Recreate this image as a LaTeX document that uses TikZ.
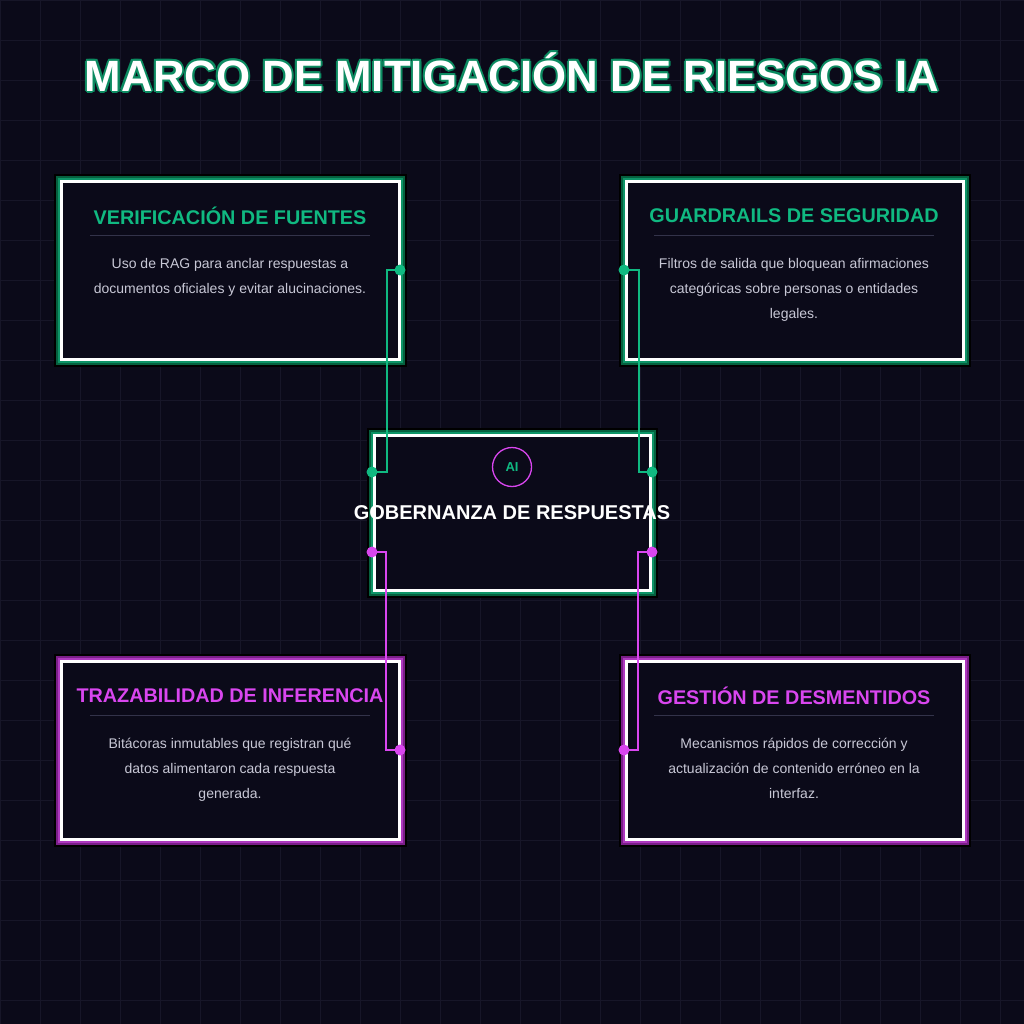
\documentclass[tikz,border=0pt]{standalone}
\usepackage{fontspec}
\setmainfont{Liberation Sans}
\usetikzlibrary{positioning}
\definecolor{bgdark}{HTML}{0B0A19}
\definecolor{gridc}{HTML}{171628}
\definecolor{emer}{HTML}{10B981}
\definecolor{emerdk}{HTML}{06603F}
\definecolor{pinkc}{HTML}{D946EF}
\definecolor{pinkdk}{HTML}{7A1F88}
\definecolor{bodyc}{HTML}{C8C8D6}
\definecolor{sepc}{HTML}{33334A}
\tikzset{
  head/.style={font=\bfseries\fontsize{19.8}{24}\selectfont},
  body/.style={text=bodyc, align=center, font=\fontsize{14}{25}\selectfont},
  dot/.style={circle, inner sep=0pt, minimum size=11pt},
  wire/.style={line width=1.5pt}
}
% card: x0, y0, x1, y1 (outer box), accent colour, dark colour
\newcommand{\card}[6]{%
  \fill[black] (#1,#2) rectangle (#3,#4);
  \fill[#6] (#1+2,#2+2) rectangle (#3-2,#4-2);
  \fill[#5!80!black] (#1+4,#2+4) rectangle (#3-4,#4-4);
  \fill[bgdark] (#1+6,#2+6) rectangle (#3-6,#4-6);
  \draw[white, line width=3pt] (#1+7.5,#2+7.5) rectangle (#3-7.5,#4-7.5);
}
\begin{document}
\begin{tikzpicture}[x=1pt, y=-1pt]
  \fill[bgdark] (0,0) rectangle (1024,1024);
  \useasboundingbox (0,0) rectangle (1024,1024);
  \foreach \k in {0,40,...,1000} {
    \draw[gridc] (\k,0) -- (\k,1024);
    \draw[gridc] (0,\k) -- (1024,\k);
  }

  % title
  \foreach \dx/\dy in {-2/0,2/0,0/-2,0/2,-1.5/-1.5,1.5/1.5,-1.5/1.5,1.5/-1.5}
    \node[emer!75!black, font=\bfseries\fontsize{43.8}{48}\selectfont] at (512+\dx,72+\dy) {MARCO DE MITIGACIÓN DE RIESGOS IA};
  \node[white, font=\bfseries\fontsize{43.8}{48}\selectfont] (title) at (512,72) {MARCO DE MITIGACIÓN DE RIESGOS IA};

  % cards
  \card{54}{174}{407}{367}{emer}{emerdk}
  \card{619}{174}{971}{367}{emer}{emerdk}
  \card{367}{428}{658}{598}{emer}{emerdk}
  \card{54}{654}{407}{847}{pinkc}{pinkdk}
  \card{619}{654}{971}{847}{pinkc}{pinkdk}

  % verificacion
  \node[head, text=emer] (vhead) at (230,216) {VERIFICACIÓN DE FUENTES};
  \draw[sepc] (90,235) -- (370,235);
  \node[body, anchor=north] (vbody) at (230,255) {Uso de RAG para anclar respuestas a\\documentos oficiales y evitar alucinaciones.};

  % guardrails
  \node[head, text=emer] (ghead) at (794,216) {GUARDRAILS DE SEGURIDAD};
  \draw[sepc] (654,235) -- (934,235);
  \node[body, anchor=north] (gbody) at (794,255) {Filtros de salida que bloquean afirmaciones\\categóricas sobre personas o entidades\\legales.};

  % trazabilidad
  \node[head, text=pinkc] (thead) at (230,696) {TRAZABILIDAD DE INFERENCIA};
  \draw[sepc] (90,715) -- (370,715);
  \node[body, anchor=north] (tbody) at (230,735) {Bitácoras inmutables que registran qué\\datos alimentaron cada respuesta\\generada.};

  % desmentidos
  \node[head, text=pinkc] (dhead) at (794,696) {GESTIÓN DE DESMENTIDOS};
  \draw[sepc] (654,715) -- (934,715);
  \node[body, anchor=north] (dbody) at (794,735) {Mecanismos rápidos de corrección y\\actualización de contenido erróneo en la\\interfaz.};

  % centre
  \node[circle, draw=pinkc, line width=1.3pt, minimum size=39pt, inner sep=0pt,
        text=emer, font=\bfseries\fontsize{13}{15}\selectfont] (ai) at (512,467) {AI};
  \node[white, font=\bfseries\fontsize{20}{24}\selectfont] (core) at (512,513) {GOBERNANZA DE RESPUESTAS};

  % connectors
  \node[dot, fill=emer] (vd) at (400,270) {};
  \node[dot, fill=emer] (gd) at (624,270) {};
  \node[dot, fill=emer] (cl) at (372,472) {};
  \node[dot, fill=emer] (cr) at (652,472) {};
  \node[dot, fill=pinkc] (td) at (400,750) {};
  \node[dot, fill=pinkc] (dd) at (624,750) {};
  \node[dot, fill=pinkc] (pl) at (372,552) {};
  \node[dot, fill=pinkc] (pr) at (652,552) {};
  \draw[wire, emer] (vd.center) -| (387,472) -- (cl.center);
  \draw[wire, emer] (gd.center) -| (639,472) -- (cr.center);
  \draw[wire, pinkc] (pl.center) -| (386,750) -- (td.center);
  \draw[wire, pinkc] (pr.center) -| (638,750) -- (dd.center);
\end{tikzpicture}
\end{document}
